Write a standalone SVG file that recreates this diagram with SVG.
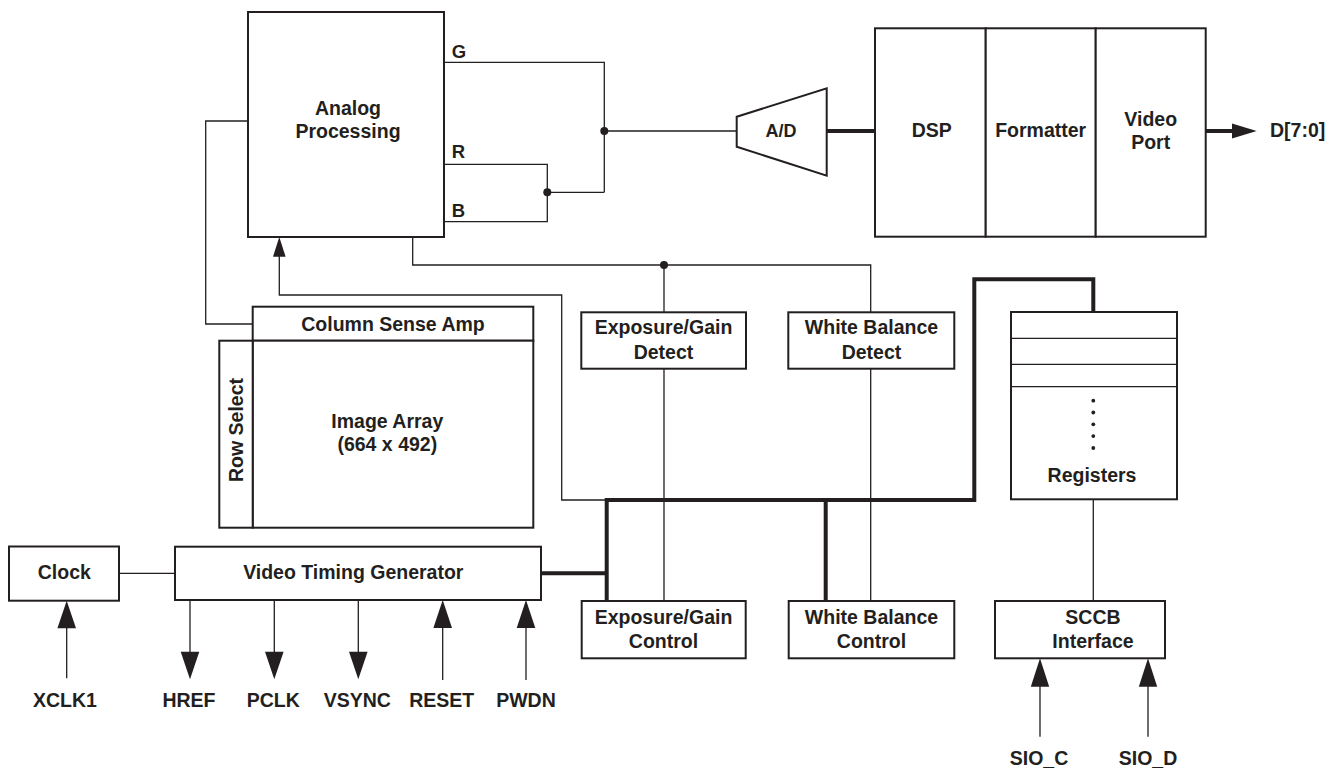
<svg xmlns="http://www.w3.org/2000/svg" width="1342" height="770" viewBox="0 0 1342 770">
<style>
.box{fill:#fff;stroke:#231f20;stroke-width:2}
.thin{fill:none;stroke:#231f20;stroke-width:1.3}
.bus{fill:none;stroke:#231f20;stroke-width:4}
.t{font-family:"Liberation Sans",Arial,sans-serif;font-weight:bold;font-size:19.5px;fill:#231f20;text-anchor:middle}
.s{font-size:18.5px;text-anchor:start}
.fill{fill:#231f20}
</style>
<rect width="1342" height="770" fill="#fff"/>
<g id="connectors">
  <path class="thin" d="M444,62.3 H604.3 V192.3 M444,164.3 H547.3 V221.7 H444 M547.3,192.3 H604.3 M604.3,131 H736.7"/>
  <circle class="fill" cx="604.3" cy="131" r="4"/>
  <circle class="fill" cx="547.3" cy="192.3" r="4"/>
  <path class="bus" d="M826.7,131 H875"/>
  <path class="bus" d="M1205.7,131 H1234"/>
  <polygon class="fill" points="1232,123.5 1256.7,131 1232,138.5"/>
  <path class="thin" d="M248,121 H205.7 V324 H252.7"/>
  <path class="thin" d="M279.3,255 V295 H561.7 V500 H606"/>
  <polygon class="fill" points="279.3,237 273,256.7 285.6,256.7"/>
  <path class="thin" d="M412.7,237 V265 H870.7 V312.3 M664,265 V312.3 M664,368.7 V601 M870.7,368.7 V601"/>
  <circle class="fill" cx="664" cy="265" r="4"/>
  <path class="bus" d="M541,573.3 H606.7 M606.7,601 V500 H974.3 V279.3 H1093.3 V312 M825.7,500 V601"/>
  <path class="thin" d="M119,573.3 H175"/>
  <path class="thin" d="M1093.3,499.3 V601"/>
  <path class="thin" d="M66.7,678.3 V626 M442.7,680 V626 M526,680 V626"/>
  <polygon class="fill" points="66.7,600.7 57.4,628.3 76,628.3"/>
  <polygon class="fill" points="442.7,600 433.4,628 452,628"/>
  <polygon class="fill" points="526,600 516.7,628 535.3,628"/>
  <path class="thin" d="M190,600 V654 M274.3,600 V654 M358.3,600 V654"/>
  <polygon class="fill" points="190,679.3 180.7,651.7 199.3,651.7"/>
  <polygon class="fill" points="274.3,679.3 265,651.7 283.6,651.7"/>
  <polygon class="fill" points="358.3,679.3 349,651.7 367.6,651.7"/>
  <path class="thin" d="M1040,736.7 V684 M1148,736.7 V684"/>
  <polygon class="fill" points="1040,658.3 1030.8,686.7 1049.2,686.7"/>
  <polygon class="fill" points="1148,658.3 1138.8,686.7 1157.2,686.7"/>
</g>
<g id="analog">
  <rect class="box" x="248" y="12" width="196" height="225"/>
  <text class="t" x="348" y="115">Analog</text>
  <text class="t" x="348" y="138">Processing</text>
  <text class="t s" x="451.7" y="58.3">G</text>
  <text class="t s" x="451.7" y="158">R</text>
  <text class="t s" x="451.7" y="216.7">B</text>
</g>
<g id="ad">
  <polygon class="box" points="736.7,116.7 826.7,88.3 826.7,175.7 736.7,146.7"/>
  <text class="t" x="781" y="137.3" style="font-size:18px">A/D</text>
</g>
<g id="dsp">
  <rect class="box" x="875" y="28.3" width="110.7" height="208.4"/>
  <text class="t" x="931.7" y="137">DSP</text>
</g>
<g id="formatter">
  <rect class="box" x="985.7" y="28.3" width="110" height="208.4"/>
  <text class="t" x="1040.7" y="137">Formatter</text>
</g>
<g id="videoport">
  <rect class="box" x="1095.7" y="28.3" width="110" height="208.4"/>
  <text class="t" x="1150.7" y="126">Video</text>
  <text class="t" x="1150.7" y="149.3">Port</text>
</g>
<g id="dout">
  <text class="t" x="1270" y="137.3" style="text-anchor:start">D[7:0]</text>
</g>
<g id="csa">
  <rect class="box" x="252.7" y="306.7" width="280.6" height="34"/>
  <text class="t" x="393" y="330.5">Column Sense Amp</text>
</g>
<g id="array">
  <rect class="box" x="252.7" y="340.7" width="280.6" height="187"/>
  <text class="t" x="387.3" y="428.3">Image Array</text>
  <text class="t" x="387.3" y="451">(664 x 492)</text>
</g>
<g id="rowselect">
  <rect class="box" x="219.3" y="340.7" width="33.4" height="187"/>
  <text class="t" x="243" y="430" transform="rotate(-90 243 430)">Row Select</text>
</g>
<g id="egdetect">
  <rect class="box" x="581.3" y="312.3" width="164.7" height="56.4"/>
  <text class="t" x="663.5" y="334">Exposure/Gain</text>
  <text class="t" x="663.5" y="358.7">Detect</text>
</g>
<g id="wbdetect">
  <rect class="box" x="788.3" y="312.3" width="166" height="56.4"/>
  <text class="t" x="871.5" y="334">White Balance</text>
  <text class="t" x="871.5" y="358.7">Detect</text>
</g>
<g id="registers">
  <rect class="box" x="1011" y="312" width="166" height="187.3"/>
  <path class="thin" d="M1011,338.3 H1177 M1011,364.3 H1177 M1011,386.7 H1177"/>
  <circle class="fill" cx="1093.3" cy="400.7" r="1.9"/>
  <circle class="fill" cx="1093.3" cy="412.5" r="1.9"/>
  <circle class="fill" cx="1093.3" cy="424.3" r="1.9"/>
  <circle class="fill" cx="1093.3" cy="436.1" r="1.9"/>
  <circle class="fill" cx="1093.3" cy="448" r="1.9"/>
  <text class="t" x="1092" y="481.7">Registers</text>
</g>
<g id="clock">
  <rect class="box" x="9" y="546.5" width="110" height="54.2"/>
  <text class="t" x="64.3" y="579.3">Clock</text>
</g>
<g id="vtg">
  <rect class="box" x="175" y="546.7" width="366" height="53.3"/>
  <text class="t" x="353.3" y="579.3">Video Timing Generator</text>
</g>
<g id="egcontrol">
  <rect class="box" x="581.7" y="601" width="164" height="57.3"/>
  <text class="t" x="663.5" y="624">Exposure/Gain</text>
  <text class="t" x="663.5" y="648.3">Control</text>
</g>
<g id="wbcontrol">
  <rect class="box" x="788.7" y="601" width="165.6" height="57.3"/>
  <text class="t" x="871.5" y="624">White Balance</text>
  <text class="t" x="871.5" y="648.3">Control</text>
</g>
<g id="sccb">
  <rect class="box" x="995" y="601" width="170" height="57.3"/>
  <text class="t" x="1093" y="624">SCCB</text>
  <text class="t" x="1093" y="648.3">Interface</text>
</g>
<g id="labels">
  <text class="t" x="65" y="706.7">XCLK1</text>
  <text class="t" x="189" y="706.7">HREF</text>
  <text class="t" x="273.3" y="706.7">PCLK</text>
  <text class="t" x="357.3" y="706.7">VSYNC</text>
  <text class="t" x="441.7" y="706.7">RESET</text>
  <text class="t" x="526" y="706.7">PWDN</text>
  <text class="t" x="1039" y="765">SIO_C</text>
  <text class="t" x="1148" y="765">SIO_D</text>
</g>
</svg>
